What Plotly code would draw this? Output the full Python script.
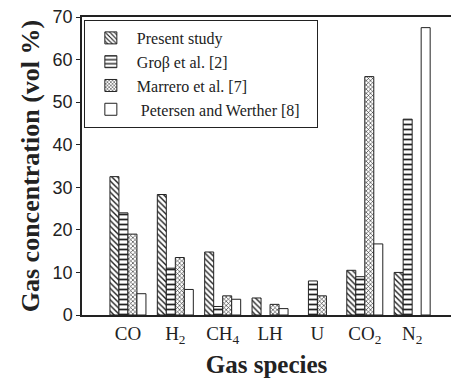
import plotly.graph_objects as go

categories = ["CO", "H<sub>2</sub>", "CH<sub>4</sub>", "LH", "U", "CO<sub>2</sub>", "N<sub>2</sub>"]
present_study = [32.5, 28.3, 14.8, 4.0, None, 10.5, 10.0]
gross_2 = [24.0, 11.0, 2.0, None, 8.0, 9.0, 46.0]
marrero_7 = [19.0, 13.5, 4.5, 2.5, 4.5, 56.0, None]
petersen_8 = [5.0, 6.0, 3.7, 1.5, None, 16.7, 67.5]

series_names = ["Present study", "Groβ et al. [2]", "Marrero et al. [7]", " Petersen and Werther [8]&nbsp;&nbsp;&nbsp;"]
series_values = [present_study, gross_2, marrero_7, petersen_8]
patterns = ["\\", "-", "x", ""]
pattern_sizes = [4, 5, 3, 6]

serif = "Liberation Serif, Times New Roman, serif"
sans = "Liberation Sans, Arial, sans-serif"

fig = go.Figure()
x_idx = list(range(len(categories)))
for name, vals, pat, ps in zip(series_names, series_values, patterns, pattern_sizes):
    fig.add_trace(go.Bar(
        x=x_idx, y=vals, name=name,
        marker=dict(
            color="white",
            line=dict(color="#222", width=1),
            pattern=dict(shape=pat, size=ps, solidity=0.35, fgcolor="#222", bgcolor="white", fillmode="replace"),
        ),
    ))

fig.update_layout(
    width=451, height=382,
    margin=dict(l=82, r=0, t=17, b=67),
    paper_bgcolor="white", plot_bgcolor="white",
    barmode="group", bargap=0.24, bargroupgap=0,
    font=dict(family=serif, color="#222"),
    showlegend=True,
    legend=dict(
        x=0.005, y=0.99, xanchor="left", yanchor="top",
        bgcolor="white", bordercolor="#222", borderwidth=1,
        font=dict(family=serif, size=16, color="#222"),
        tracegroupgap=0, itemwidth=42,
    ),
    xaxis=dict(
        tickmode="array", tickvals=x_idx, ticktext=categories,
        range=[-0.97, 6.82],
        showline=True, linecolor="#222", linewidth=1.5, mirror=True,
        ticks="", showgrid=False, zeroline=False,
        tickfont=dict(family=serif, size=19, color="#222"),
        title=dict(text="<b>Gas species</b>", font=dict(family=serif, size=25, color="#222"), standoff=10),
    ),
    yaxis=dict(
        range=[0, 70], dtick=10,
        showline=True, linecolor="#222", linewidth=1.5, mirror=False,
        ticks="outside", ticklen=4, tickcolor="#222",
        showgrid=False, zeroline=False,
        tickfont=dict(family=sans, size=18, color="#222"),
        title=dict(text="<b>Gas concentration (vol %)</b>", font=dict(family=serif, size=26, color="#222"), standoff=6),
    ),
)

fig.write_html("out.html")
